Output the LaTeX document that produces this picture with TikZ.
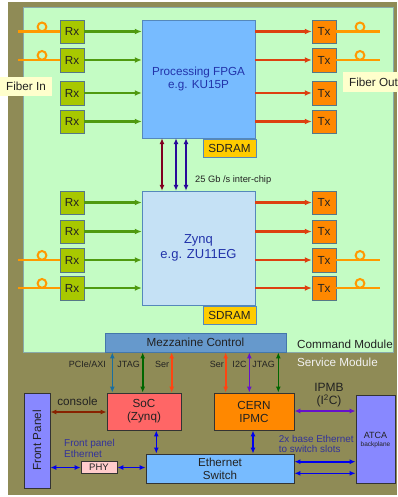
\documentclass[tikz,border=0pt]{standalone}
\usepackage{fontspec}
\setmainfont{Liberation Sans}
\usetikzlibrary{arrows.meta}
\definecolor{olivec}{HTML}{8F8B56}
\definecolor{greenc}{HTML}{C4FCC4}
\definecolor{greenbord}{HTML}{88AAAA}
\definecolor{rxc}{HTML}{A8C800}
\definecolor{txc}{HTML}{FF8800}
\definecolor{bordc}{HTML}{557788}
\definecolor{fpgac}{HTML}{77BBFF}
\definecolor{fpgabord}{HTML}{5588BB}
\definecolor{zynqc}{HTML}{C5E1F5}
\definecolor{sdramc}{HTML}{FFCC00}
\definecolor{fiberc}{HTML}{FF9900}
\definecolor{garc}{HTML}{4F9A10}
\definecolor{rarc}{HTML}{DD4010}
\definecolor{labelc}{HTML}{FFFFCC}
\definecolor{mezzc}{HTML}{6699CC}
\definecolor{mezzbord}{HTML}{4477AA}
\definecolor{socc}{HTML}{FF6666}
\definecolor{fpc}{HTML}{8888FF}
\definecolor{swc}{HTML}{77BBFF}
\definecolor{phyc}{HTML}{FFCCCC}
\definecolor{darkbord}{HTML}{333333}
\definecolor{fpgatext}{HTML}{2233AA}
\definecolor{drc}{HTML}{800020}
\definecolor{indc}{HTML}{2A0A99}
\definecolor{pcic}{HTML}{1A6EA0}
\definecolor{jtagc}{HTML}{006600}
\definecolor{serc}{HTML}{FF4411}
\definecolor{i2cc}{HTML}{6611CC}
\definecolor{ethc}{HTML}{0000EE}
\definecolor{conc}{HTML}{882200}
\definecolor{ethtext}{HTML}{333399}
\definecolor{txtc}{HTML}{222222}
\begin{document}
\begin{tikzpicture}[x=1pt,y=-1pt,
  every node/.style={font=\fontsize{11.7}{13}\selectfont, inner sep=0pt, text=txtc},
  rxbox/.style={draw=bordc, fill=rxc, minimum width=24pt, minimum height=23.5pt},
  txbox/.style={draw=bordc, fill=txc, minimum width=24pt, minimum height=23.5pt},
  fiber/.style={draw=fiberc, line width=2.5pt},
  loopc/.style={draw=fiberc, line width=2pt},
  tip/.style={Latex[length=6pt,width=5pt]},
  garrow/.style={draw=garc, line width=2.2pt, -{Latex[length=7pt,width=6pt]}},
  rarrow/.style={draw=rarc, line width=2.2pt, -{Latex[length=7pt,width=6pt]}},
  darr/.style={line width=1.6pt, {Latex[length=6pt,width=5pt]}-{Latex[length=6pt,width=5pt]}},
  svcbox/.style={draw=darkbord, line width=0.8pt},
  smalllab/.style={font=\fontsize{9}{10}\selectfont, anchor=east},
  flabel/.style={fill=labelc, anchor=west, inner xsep=6pt, minimum height=19.5pt}
]
\useasboundingbox (0,0) rectangle (397,497);
% background regions
\fill[olivec] (8,2) rectangle (397,495);
\draw[draw=greenbord, fill=greenc, line width=0.8pt] (23,7) rectangle (393,352);

% big chips
\node[draw=fpgabord, fill=fpgac, minimum width=113pt, minimum height=118pt, align=center,
  text=fpgatext, font=\fontsize{11.7}{13.5}\selectfont] (fpga) at (198.5,79) {Processing FPGA\\e.g. KU15P};
\node[draw=fpgabord, fill=zynqc, minimum width=113pt, minimum height=114pt, align=center,
  text=fpgatext, font=\fontsize{13}{14.5}\selectfont] (zynq) at (198.5,248) {Zynq\\e.g. ZU11EG};
\node[draw=fpgabord, fill=sdramc, minimum width=53pt, minimum height=18pt] (sd1) at (229.5,148) {SDRAM};
\node[draw=fpgabord, fill=sdramc, minimum width=53pt, minimum height=18pt] (sd2) at (229.5,315) {SDRAM};

% Rx / Tx
\foreach \i/\y in {1/31.5,2/60,3/93,4/121.5,5/202.5,6/231.5,7/260,8/288} {
  \node[rxbox] (rx\i) at (72,\y) {Rx};
  \node[txbox] (tx\i) at (324,\y) {Tx};
  \draw[garrow] (rx\i.east) -- (rx\i.east -| fpga.west);
  \draw[rarrow] (tx\i.west -| fpga.east) -- (tx\i.west);
}

% fibers
\foreach \i in {1,2,7,8} {
  \coordinate (fl\i) at (18,0 |- rx\i.west);
  \coordinate (fr\i) at (380,0 |- tx\i.east);
  \draw[fiber] (fl\i) -- (rx\i.west);
  \draw[fiber] (tx\i.east) -- (fr\i);
  \draw[loopc] ([yshift=4.6pt]42,0 |- rx\i.west) circle (4.4pt);
  \draw[loopc] ([yshift=4.6pt]360,0 |- tx\i.east) circle (4.4pt);
}

\node[flabel] (fin) at (0,86.5) {Fiber In};
\node[flabel] (fout) at (343,82) {Fiber Out};

% inter-chip
\draw[darr, draw=drc] (162,0 |- fpga.south) -- (162,0 |- zynq.north);
\draw[darr, draw=indc] (176,0 |- fpga.south) -- (176,0 |- zynq.north);
\draw[darr, draw=indc] (186,0 |- fpga.south) -- (186,0 |- zynq.north);
\node[anchor=west, font=\fontsize{9.3}{10}\selectfont] (ic) at (195,180) {25 Gb /s inter-chip};

% mezzanine
\node[draw=mezzbord, fill=mezzc, minimum width=181pt, minimum height=19pt, line width=0.8pt] (mezz) at (195.5,342.5) {Mezzanine Control};
\node (cmd) at (345,344) {Command Module};
\node[text=white!90!gray] (svc) at (337.5,362) {Service Module};

% service boxes
\node[svcbox, fill=socc, minimum width=74pt, minimum height=37pt, align=center] (soc) at (144,411.5) {SoC\\(Zynq)};
\node[svcbox, fill=txc, minimum width=80pt, minimum height=37pt, align=center] (ipmc) at (254,411.5) {CERN\\IPMC};
\node[svcbox, fill=fpc, minimum width=26pt, minimum height=95pt] (fp) at (37,440.5) {};
\node[rotate=90] (fptext) at (fp.center) {Front Panel};
\node[svcbox, fill=fpc, minimum width=39pt, minimum height=88pt] (atca) at (375.5,439) {};
\node[font=\fontsize{9}{10}\selectfont] (atcat) at (375.5,435.7) {ATCA};
\node[font=\fontsize{6.5}{7}\selectfont] (atcab) at (375.5,445) {backplane};
\node[svcbox, fill=swc, minimum width=148pt, minimum height=29pt, align=center,
  font=\fontsize{11.6}{13}\selectfont] (sw) at (220,468.5) {Ethernet\\Switch};
\node[svcbox, fill=phyc, minimum width=36pt, minimum height=11.5pt, font=\fontsize{9.5}{10}\selectfont] (phy) at (99,467.5) {PHY};

% mezzanine links
\draw[darr, draw=pcic] (112.3,0 |- mezz.south) -- (112.3,0 |- soc.north);
\draw[darr, draw=jtagc] (142.7,0 |- mezz.south) -- (142.7,0 |- soc.north);
\draw[darr, draw=serc] (171.7,0 |- mezz.south) -- (171.7,0 |- soc.north);
\draw[darr, draw=serc] (225.7,0 |- mezz.south) -- (225.7,0 |- ipmc.north);
\draw[darr, draw=i2cc] (249.3,0 |- mezz.south) -- (249.3,0 |- ipmc.north);
\draw[darr, draw=jtagc] (278.3,0 |- mezz.south) -- (278.3,0 |- ipmc.north);
\node[smalllab] (lpci) at (106,364) {PCIe/AXI};
\node[smalllab] (ljt1) at (140,364) {JTAG};
\node[smalllab] (lser1) at (169.3,364) {Ser};
\node[smalllab] (lser2) at (224,364) {Ser};
\node[smalllab] (li2c) at (246.7,364) {I2C};
\node[smalllab] (ljt2) at (275,364) {JTAG};

% service links
\draw[darr, draw=conc] (fp.east |- 0,412) -- (soc.west |- 0,412);
\node (con) at (77.5,401) {console};
\draw[darr, draw=i2cc] (ipmc.east |- 0,411) -- (atca.west |- 0,411);
\node[align=center, font=\fontsize{12}{13}\selectfont] (ipmb) at (329,395.5) {IPMB\\(I\textsuperscript{2}C)};
\draw[darr, draw=ethc] (fp.east |- phy.west) -- (phy.west);
\draw[darr, draw=ethc] (phy.east) -- (phy.east -| sw.west);
\draw[darr, draw=ethc] (156.3,0 |- soc.south) -- (156.3,0 |- sw.north);
\draw[darr, draw=ethc] (253,0 |- ipmc.south) -- (253,0 |- sw.north);
\draw[darr, draw=ethc] (sw.east |- 0,461.7) -- (atca.west |- 0,461.7);
\draw[darr, draw=ethc] (sw.east |- 0,473.3) -- (atca.west |- 0,473.3);
\node[anchor=west, align=left, text=ethtext, font=\fontsize{10}{11}\selectfont] (fpe) at (64,448) {Front panel\\Ethernet};
\node[anchor=west, align=left, text=ethtext, font=\fontsize{9.9}{10.5}\selectfont] (bse) at (278.7,444) {2x base Ethernet\\to switch slots};
\end{tikzpicture}
\end{document}
